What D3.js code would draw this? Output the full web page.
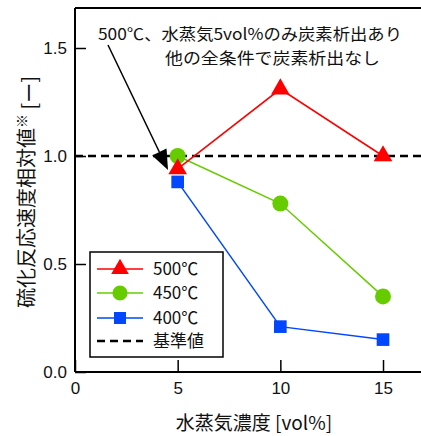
<!DOCTYPE html>
<html><head><meta charset="utf-8">
<script src="https://cdn.jsdelivr.net/npm/d3@7"></script>
<style>
html,body{margin:0;padding:0;background:#fff;}
svg{display:block;font-family:"Noto Sans CJK JP","Noto Sans",sans-serif;}
</style></head>
<body>
<svg id="c" width="421" height="436"></svg>
<script>
const categories = [5, 10, 15];
const s500 = [0.94, 1.31, 1.0];
const s450 = [1.0, 0.78, 0.35];
const s400 = [0.88, 0.21, 0.15];
const baseline = [1.0];
const xTicks = [0, 5, 10, 15];
const yTicks = [0.0, 0.5, 1.0, 1.5];
const seriesNames = ["500℃", "450℃", "400℃", "基準値"];
const annoLines = ["500℃、水蒸気5vol%のみ炭素析出あり", "他の全条件で炭素析出なし"];
const xTitle = "水蒸気濃度 [vol%]";
const yTitle = "硫化反応速度相対値";

const svg = d3.select("#c");
const L = 75, R = 421, T = 8, B = 372;
const x = d3.scaleLinear().domain([0, 16.85]).range([L, R]);
const y = d3.scaleLinear().domain([0, (B - T) / 216]).range([B, T]);

// top border
svg.append("line").attr("x1", L).attr("x2", R).attr("y1", T).attr("y2", T)
  .attr("stroke", "#000").attr("stroke-width", 2);

// axes
const gx = svg.append("g").attr("transform", `translate(0,${B})`)
  .call(d3.axisBottom(x).tickValues(xTicks).tickFormat(d3.format("d")).tickSizeInner(-12).tickSizeOuter(0).tickPadding(10));
const gy = svg.append("g").attr("transform", `translate(${L},0)`)
  .call(d3.axisLeft(y).tickValues(yTicks).tickFormat(d3.format(".1f")).tickSizeInner(-11).tickSizeOuter(0).tickPadding(8));
[gx, gy].forEach(g => {
  g.select(".domain").attr("stroke", "#000").attr("stroke-width", 2);
  g.selectAll(".tick line").attr("stroke", "#000").attr("stroke-width", 1.5);
  g.selectAll(".tick text").attr("fill", "#111").style("font-size", "17px").style("font-family", "Liberation Sans, Arial, sans-serif");
});
gx.select(".domain").attr("d", `M${L},0H${R}`);
gy.select(".domain").attr("d", `M0,${B}V${T}`);
gx.selectAll(".tick text").attr("dy", "0.71em");

// baseline dashed
svg.append("line").attr("x1", L).attr("x2", R).attr("y1", y(baseline[0])).attr("y2", y(baseline[0]))
  .attr("stroke", "#000").attr("stroke-width", 2.5).attr("stroke-dasharray", "8,5");

const series = [
  {vals: s500, color: "#ff0000", sym: d3.symbolTriangle, size: 150},
  {vals: s450, color: "#66cc00", sym: d3.symbolCircle, size: 200},
  {vals: s400, color: "#0047ff", sym: d3.symbolSquare, size: 160}
];
const line = d3.line().x((d, i) => x(categories[i])).y(d => y(d));

[2, 1, 0].forEach(k => {
  const s = series[k];
  svg.append("path").attr("d", line(s.vals)).attr("fill", "none").attr("stroke", s.color).attr("stroke-width", 1.5);
});
[2, 1, 0].forEach(k => {
  const s = series[k];
  svg.selectAll(null).data(s.vals).enter().append("path")
    .attr("d", d3.symbol().type(s.sym).size(s.size))
    .attr("transform", (d, i) => `translate(${x(categories[i])},${y(d)})`)
    .attr("fill", s.color);
});

// annotation
const ann = svg.append("g").style("font-size", "16px").attr("fill", "#111");
ann.append("text").attr("x", 98).attr("y", 40).attr("textLength", 304).attr("lengthAdjust", "spacingAndGlyphs").text(annoLines[0]);
ann.append("text").attr("x", 165).attr("y", 64).attr("textLength", 215).attr("lengthAdjust", "spacingAndGlyphs").text(annoLines[1]);
// arrow
const ax1 = 108, ay1 = 45, ax2 = 168, ay2 = 170;
const ang = Math.atan2(ay2 - ay1, ax2 - ax1);
const hl = 20, hw = 8;
const bx = ax2 - hl * Math.cos(ang), by = ay2 - hl * Math.sin(ang);
svg.append("line").attr("x1", ax1).attr("y1", ay1).attr("x2", bx).attr("y2", by).attr("stroke", "#000").attr("stroke-width", 1.5);
svg.append("path").attr("d", `M${ax2},${ay2}L${bx - hw * Math.sin(ang)},${by + hw * Math.cos(ang)}L${bx + hw * Math.sin(ang)},${by - hw * Math.cos(ang)}Z`).attr("fill", "#000");

// legend
const lg = svg.append("g");
lg.append("rect").attr("x", 90).attr("y", 252).attr("width", 133).attr("height", 105)
  .attr("fill", "#fff").attr("stroke", "#000").attr("stroke-width", 1.5);
const rowsY = [269, 293, 318, 341];
seriesNames.forEach((n, i) => {
  const yy = rowsY[i];
  if (i < 3) {
    const s = series[i];
    lg.append("line").attr("x1", 97).attr("x2", 143).attr("y1", yy).attr("y2", yy).attr("stroke", s.color).attr("stroke-width", 1.5);
    lg.append("path").attr("d", d3.symbol().type(s.sym).size(s.size * 0.9)).attr("transform", `translate(120,${yy})`).attr("fill", s.color);
  } else {
    lg.append("line").attr("x1", 97).attr("x2", 143).attr("y1", yy).attr("y2", yy).attr("stroke", "#000").attr("stroke-width", 2.5).attr("stroke-dasharray", "8,5");
  }
  lg.append("text").attr("x", 153).attr("y", yy).attr("dy", "0.36em").style("font-size", "17px").attr("fill", "#111").text(n);
});

// axis titles
svg.append("text").attr("x", 254).attr("y", 430).attr("text-anchor", "middle").style("font-size", "19px").attr("fill", "#111").text(xTitle);
const yt = svg.append("text").attr("transform", "translate(34,192) rotate(-90)").attr("text-anchor", "middle").style("font-size", "20px").attr("fill", "#111");
yt.append("tspan").text(yTitle);
yt.append("tspan").attr("dy", "-0.5em").style("font-size", "14px").text("※");
yt.append("tspan").attr("dy", "0.5em").text(" [ー]");
</script>
</body></html>
